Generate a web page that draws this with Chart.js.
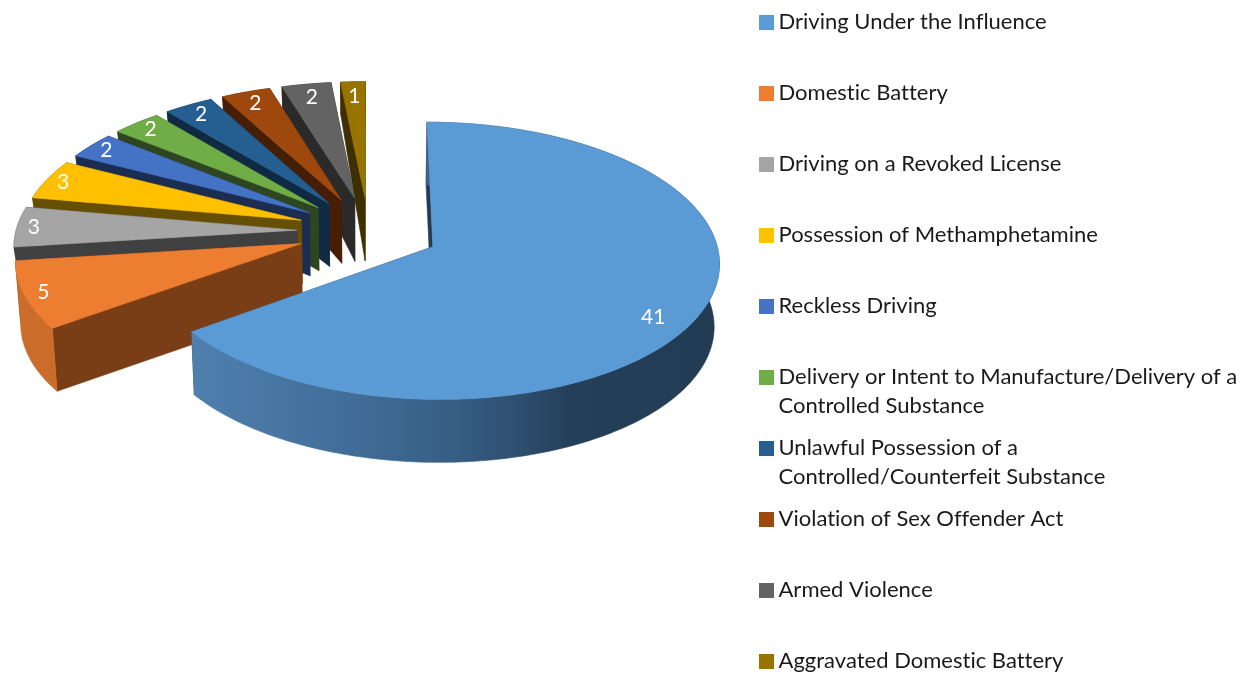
<!DOCTYPE html>
<html><head><meta charset="utf-8">
<style>html,body{margin:0;padding:0;background:#fff}canvas{display:block}</style>
<script src="https://cdn.jsdelivr.net/npm/chart.js@4"></script>
</head><body><div style="width:1249px;height:673px"><canvas id="c" width="1249" height="673"></canvas></div>
<script>
const categories = [
  "Driving Under the Influence","Domestic Battery","Driving on a Revoked License",
  "Possession of Methamphetamine","Reckless Driving",
  ["Delivery or Intent to Manufacture/Delivery of a","Controlled Substance"],
  ["Unlawful Possession of a","Controlled/Counterfeit Substance"],
  "Violation of Sex Offender Act","Armed Violence","Aggravated Domestic Battery"];
const counts = [41,5,3,3,2,2,2,2,2,1];
const faceColors = ["#5B9BD5","#ED7D31","#A5A5A5","#FFC000","#4472C4","#70AD47","#255E91","#9E480E","#636363","#997300"];
const wallColors = ["#233C54","#7A3E17","#404040","#664F00","#1B2D50","#2D4520","#0F2A42","#451E05","#2A2A2A","#3E2F00"];
const rimColors  = ["#365A80","#CC6C2B","#404040","#664F00","#1B2D50","#2D4520","#0F2A42","#451E05","#2A2A2A","#3E2F00"];

// Projection of the pie plane on the page (perspective view)
const CX=368.5, CY=231, AX=281, BY=134, PERSP=0.1, DEPTH=63, BACK_DEPTH=33, SHRINK=0.985;
function proj(u,v){const w=1-PERSP*v;return [CX+AX*u/w, CY+BY*v/w];}
function low(p,depth){return [CX+(p[0]-CX)*SHRINK, p[1]+(depth||DEPTH)];}
function poly(ctx,pts,fill){
  ctx.beginPath();pts.forEach((p,i)=>i?ctx.lineTo(p[0],p[1]):ctx.moveTo(p[0],p[1]));ctx.closePath();
  ctx.fillStyle=fill;ctx.fill();ctx.strokeStyle=fill;ctx.lineWidth=0.6;ctx.stroke();
}
function sliceGeom(arc){
  const p=arc.getProps(['startAngle','endAngle','outerRadius']);
  const d=arc.options.offset/p.outerRadius, mid=(p.startAngle+p.endAngle)/2;
  const ou=d*Math.cos(mid), ov=d*Math.sin(mid);
  const tip=proj(ou,ov), rim=[];
  const n=Math.max(6,Math.ceil((p.endAngle-p.startAngle)*60));
  for(let i=0;i<=n;i++){const a=p.startAngle+(p.endAngle-p.startAngle)*i/n;rim.push(proj(ou+Math.cos(a),ov+Math.sin(a)));}
  return {tip,rim,ou,ov,mid};
}
const pie3d={id:'pie3d',
  beforeDatasetDraw(chart,args){
    const ctx=chart.ctx, arcs=chart.getDatasetMeta(args.index).data;
    ctx.save();
    for(let i=arcs.length-1;i>=0;i--){
      const g=sliceGeom(arcs[i]);
      const first=g.rim[0], last=g.rim[g.rim.length-1];
      const outer=i<2?DEPTH:BACK_DEPTH;
      poly(ctx,[g.tip,last,low(last,outer),low(g.tip)],wallColors[i]);
      poly(ctx,[g.tip,first,low(first,outer),low(g.tip)],wallColors[i]);
      let rimFill=rimColors[i];
      if(i===0){
        const gr=ctx.createLinearGradient(188,0,720,0);
        gr.addColorStop(0,'#4F80AE');gr.addColorStop(0.3,'#416E99');gr.addColorStop(0.5,'#375E85');
        gr.addColorStop(0.62,'#2E4F6F');gr.addColorStop(0.72,'#243F59');gr.addColorStop(1,'#233C54');rimFill=gr;
      }
      poly(ctx,g.rim.concat(g.rim.slice().reverse().map(p=>low(p,outer))),rimFill);
      poly(ctx,[g.tip].concat(g.rim),faceColors[i]);
    }
    ctx.restore();
    return false;
  },
  afterDatasetsDraw(chart){
    const ctx=chart.ctx, arcs=chart.getDatasetMeta(0).data;
    ctx.save();
    ctx.fillStyle='#fff';ctx.font='21px Lato';ctx.textAlign='center';ctx.textBaseline='middle';
    arcs.forEach((arc,i)=>{
      const g=sliceGeom(arc);
      const ang=g.mid+(i===0?0.12:0);
      const r=i===0?0.875:0.86+0.08*Math.abs(Math.cos(g.mid));
      const p=proj(g.ou+r*Math.cos(ang),g.ov+r*Math.sin(ang));
      ctx.fillText(String(counts[i]),p[0],p[1]);
    });
    ctx.restore();
  },
  afterDraw(chart){
    const ctx=chart.ctx, X=760, TX=778.5, TOP=22, PITCH=71, LINE=28.6;
    ctx.save();ctx.font='22px Lato';ctx.textBaseline='middle';ctx.letterSpacing='0.01px';
    categories.forEach((lab,i)=>{
      const y=TOP+i*PITCH;
      ctx.fillStyle=faceColors[i];ctx.fillRect(X-1,y-7,15,15);
      ctx.fillStyle='#1a1a1a';
      [].concat(lab).forEach((t,j)=>ctx.fillText(t,TX,y+j*LINE));
    });
    ctx.restore();
  }
};
new Chart(document.getElementById('c'),{
  type:'pie',
  data:{labels:categories,datasets:[{data:counts,backgroundColor:faceColors,borderWidth:0,offset:76}]},
  options:{responsive:false,animation:false,rotation:0,
    plugins:{legend:{display:false},tooltip:{enabled:false}}},
  plugins:[pie3d]
});
</script></body></html>
